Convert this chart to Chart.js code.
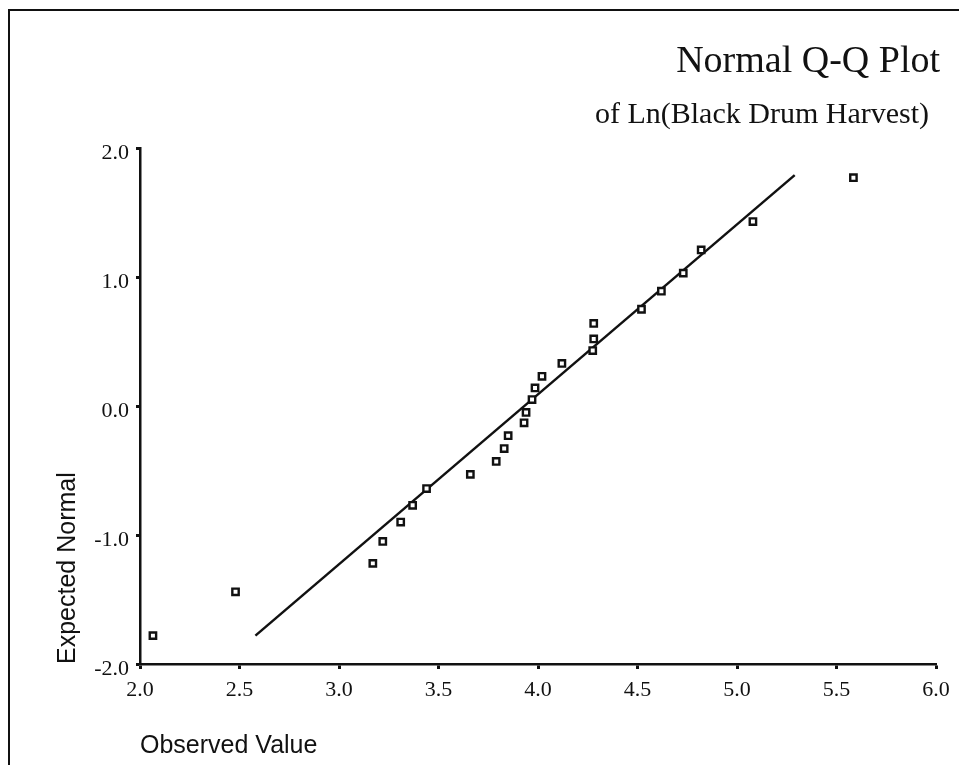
<!DOCTYPE html>
<html><head><meta charset="utf-8">
<script src="https://cdn.jsdelivr.net/npm/chart.js@4.4.1/dist/chart.umd.min.js"></script>
<style>
html,body{margin:0;padding:0;background:#fff;}
#wrap{position:relative;width:959px;height:765px;overflow:hidden;background:#fff;}
#frame{position:absolute;left:8px;top:9px;width:980px;height:790px;border-top:2px solid #111;border-left:2px solid #111;}
canvas{position:absolute;left:0;top:0;}
</style></head><body>
<div id="wrap"><div id="frame"></div><canvas id="c" width="959" height="765"></canvas></div>
<script>
// Data
const observedValue = [2.065, 2.48, 3.17, 3.22, 3.31, 3.37, 3.44, 3.66, 3.79, 3.83, 3.85, 3.93, 3.94,
                       3.97, 3.985, 4.02, 4.12, 4.275, 4.28, 4.28, 4.52, 4.62, 4.73, 4.82, 5.08, 5.585];
const expectedNormal = [-1.78, -1.44, -1.22, -1.05, -0.90, -0.77, -0.64, -0.53, -0.43, -0.33, -0.23, -0.13, -0.05,
                        0.05, 0.14, 0.23, 0.33, 0.43, 0.52, 0.64, 0.75, 0.89, 1.03, 1.21, 1.43, 1.77];
const fitLineX = [2.58, 5.29];
const fitLineY = [-1.78, 1.79];
const xTickValues = [2.0, 2.5, 3.0, 3.5, 4.0, 4.5, 5.0, 5.5, 6.0];
const yTickValues = [-2.0, -1.0, 0.0, 1.0, 2.0];
const titleText = 'Normal Q-Q Plot';
const subtitleText = 'of Ln(Black Drum Harvest)';
const xAxisTitle = 'Observed Value';
const yAxisTitle = 'Expected Normal';

const INK = '#111';
const SERIF = '"Liberation Serif", "Times New Roman", serif';
const SANS = '"Liberation Sans", Arial, sans-serif';

const pointData = observedValue.map((x, i) => ({x: x, y: expectedNormal[i]}));
const lineData = fitLineX.map((x, i) => ({x: x, y: fitLineY[i]}));

const titlePlugin = {
  id: 'titles',
  afterDraw(chart) {
    const ctx = chart.ctx;
    ctx.save();
    ctx.fillStyle = INK;
    ctx.textAlign = 'right';
    ctx.textBaseline = 'alphabetic';
    ctx.font = '38px ' + SERIF;
    ctx.fillText(titleText, 940, 72);
    ctx.font = '30px ' + SERIF;
    ctx.fillText(subtitleText, 929, 123);
    ctx.restore();
  }
};

new Chart(document.getElementById('c'), {
  type: 'scatter',
  data: {
    datasets: [
      {
        label: 'Fit',
        type: 'line',
        data: lineData,
        showLine: true,
        borderColor: INK,
        borderWidth: 2.5,
        pointRadius: 0,
        fill: false,
        order: 2
      },
      {
        label: 'Observed',
        data: pointData,
        pointStyle: 'rect',
        pointRadius: 4.5,
        borderWidth: 2.4,
        borderColor: INK,
        backgroundColor: '#fff',
        order: 1
      }
    ]
  },
  options: {
    responsive: false,
    animation: false,
    layout: {padding: {top: 148, right: 23, left: 0, bottom: 0}},
    plugins: {legend: {display: false}, tooltip: {enabled: false}},
    scales: {
      x: {
        type: 'linear',
        min: 2, max: 6,
        afterBuildTicks: s => { s.ticks = xTickValues.map(v => ({value: v})); },
        afterFit: s => { s.height = 101; },
        ticks: {
          callback: v => Number(v).toFixed(1),
          color: INK, font: {family: SERIF, size: 22}, padding: 8, maxRotation: 0, autoSkip: false
        },
        grid: {drawOnChartArea: false, drawTicks: true, tickLength: 5, tickWidth: 3, color: INK},
        border: {color: INK, width: 2.5},
        title: {
          display: true, text: xAxisTitle, align: 'start',
          color: INK, font: {family: SANS, size: 25}, padding: {top: 0, bottom: 4}
        }
      },
      y: {
        type: 'linear',
        min: -2, max: 2,
        afterBuildTicks: s => { s.ticks = yTickValues.map(v => ({value: v})); },
        afterFit: s => { s.width = 140; },
        ticks: {
          callback: v => Number(v).toFixed(1),
          color: INK, font: {family: SERIF, size: 22}, padding: 7, labelOffset: 5, autoSkip: false
        },
        grid: {drawOnChartArea: false, drawTicks: true, tickLength: 4, tickWidth: 3, color: INK},
        border: {color: INK, width: 2.5},
        title: {
          display: true, text: yAxisTitle, align: 'start',
          color: INK, font: {family: SANS, size: 25}, padding: {top: 53, bottom: 0}
        }
      }
    }
  },
  plugins: [titlePlugin]
});
</script>
</body></html>
